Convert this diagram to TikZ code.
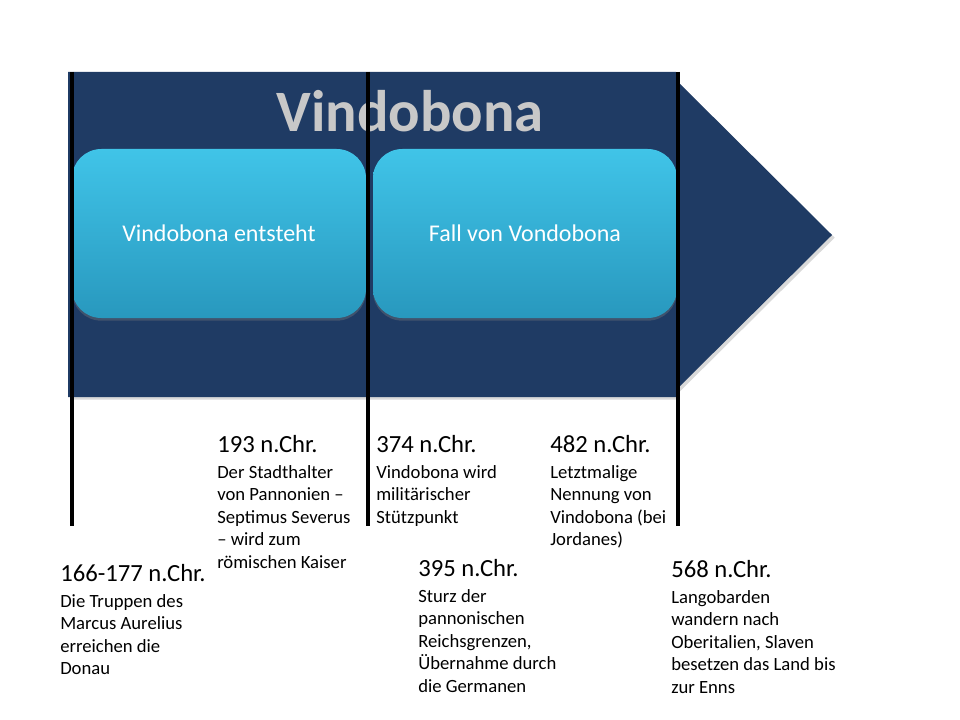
\documentclass[tikz,border=0pt]{standalone}
\usepackage{fontspec}
\setmainfont{Carlito}
\usepackage{xcolor}
\usetikzlibrary{positioning,shadows}
\definecolor{arrowblue}{HTML}{1F3B64}
\definecolor{boxtop}{HTML}{40C4E8}
\definecolor{boxbot}{HTML}{2898BE}
\definecolor{titlegray}{HTML}{C8C8C8}
\tikzset{
  phase/.style={rounded corners=22pt, minimum height=126.75pt, inner sep=0pt,
    top color=boxtop, bottom color=boxbot, text=white,
    font=\fontsize{18}{21}\selectfont,
    drop shadow={shadow xshift=0pt, shadow yshift=-2pt, opacity=0.35}},
  year/.style={anchor=base west, inner sep=0pt, font=\fontsize{18.5}{22}\selectfont},
  event/.style={inner sep=0pt, align=left, font=\fontsize{14}{16.9}\selectfont},
  timeline/.style={line width=2.6pt, black}
}

\begin{document}
\begin{tikzpicture}[x=0.75pt,y=-0.75pt]
\useasboundingbox (0,0) rectangle (960,720);

% Arrow
\fill[arrowblue, drop shadow={shadow xshift=2pt, shadow yshift=-2pt, opacity=0.3}]
  (68,72) -- (676,72) -- (676,80) -- (832,235) -- (676,390) -- (676,397) -- (68,397) -- cycle;

% Title
\node[anchor=base, text=titlegray, font=\fontsize{44}{50}\selectfont\bfseries] (title) at (410,132) {Vindobona};

% Phases
\node[phase, minimum width=220.5pt] (rise) at (219,233.5) {Vindobona entsteht};
\node[phase, minimum width=228pt] (fall) at (525,233.5) {Fall von Vondobona};

% Time marks
\draw[timeline] (72,72) -- (72,526);
\draw[timeline] (368,72) -- (368,526);
\draw[timeline] (678,72) -- (678,526);

% Events above
\node[year] (d193) at (217,452) {193 n.Chr.};
\node[event, below right=9.75pt and 0pt of d193.base west] (e193)
  {Der Stadthalter\\von Pannonien –\\Septimus Severus\\– wird zum\\römischen Kaiser};

\node[year] (d374) at (376,452) {374 n.Chr.};
\node[event, below right=9.75pt and 0pt of d374.base west] (e374)
  {Vindobona wird\\militärischer\\Stützpunkt};

\node[year] (d482) at (550,452) {482 n.Chr.};
\node[event, below right=9.75pt and 0pt of d482.base west] (e482)
  {Letztmalige\\Nennung von\\Vindobona (bei\\Jordanes)};

% Events below
\node[year] (d166) at (60,581) {166-177 n.Chr.};
\node[event, below right=9.75pt and 0pt of d166.base west] (e166)
  {Die Truppen des\\Marcus Aurelius\\erreichen die\\Donau};

\node[year] (d395) at (418,576) {395 n.Chr.};
\node[event, below right=9.75pt and 0pt of d395.base west] (e395)
  {Sturz der\\pannonischen\\Reichsgrenzen,\\Übernahme durch\\die Germanen};

\node[year] (d568) at (671,577) {568 n.Chr.};
\node[event, below right=9.75pt and 0pt of d568.base west] (e568)
  {Langobarden\\wandern nach\\Oberitalien, Slaven\\besetzen das Land bis\\zur Enns};

\end{tikzpicture}
\end{document}
